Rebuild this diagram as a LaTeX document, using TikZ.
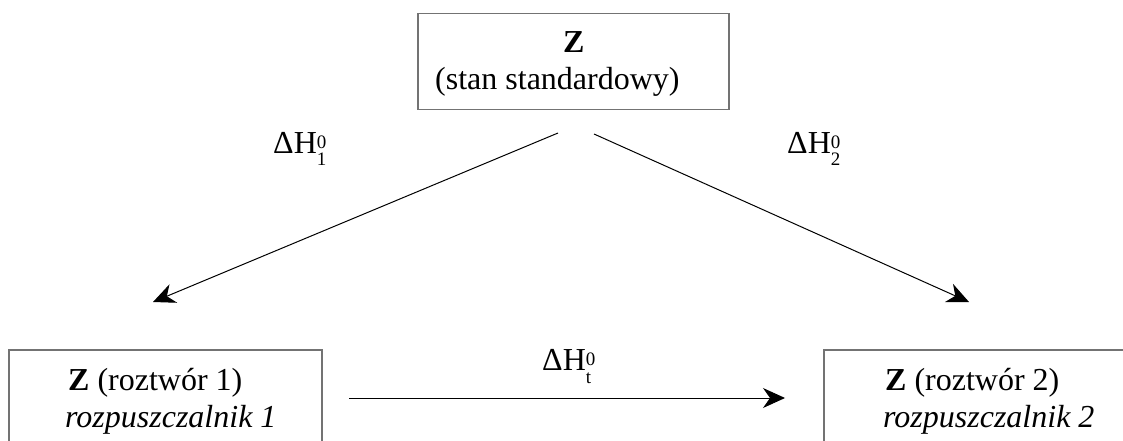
\documentclass[tikz,border=0pt]{standalone}
\usepackage{fontspec}
\setmainfont{Liberation Serif}
\usetikzlibrary{arrows.meta}
\newcommand{\dH}[1]{ΔH\rlap{\raisebox{5pt}{\fontsize{19}{19}\selectfont 0}}\raisebox{-13pt}{\fontsize{19}{19}\selectfont #1}}
\begin{document}
\begin{tikzpicture}[x=1pt, y=-1pt, font=\fontsize{32}{37}\selectfont,
			box/.style={draw=black!55, line width=1.5pt, inner sep=0pt, anchor=north west},
			lbl/.style={inner sep=0pt, anchor=base west},
			arr/.style={-{Stealth[length=22pt, width=20pt, inset=7pt]}, line width=1pt}]
			\useasboundingbox (0,0) rectangle (1123,441);
			% ramki
			\node[box, minimum width=311pt, minimum height=96pt] (std) at (417,13) {};
			\node[box, minimum width=313pt, minimum height=130pt] (r1) at (8,349) {};
			\node[box, minimum width=400pt, minimum height=130pt] (r2) at (823,349) {};
			% teksty w ramkach
			\node[lbl] (stdz) at (563,53) {\textbf{Z}};
			\node[lbl] (stdt) at (435,90) {(stan standardowy)};
			\node[lbl] (r1z) at (68,390) {\textbf{Z} (roztwór 1)};
			\node[lbl] (r1t) at (65,427) {\textit{rozpuszczalnik 1}};
			\node[lbl] (r2z) at (885,390) {\textbf{Z} (roztwór 2)};
			\node[lbl] (r2t) at (883,427) {\textit{rozpuszczalnik 2}};
			% końce strzałek
			\coordinate (a1) at (558,133);
			\coordinate (b1) at (153,302);
			\coordinate (a2) at (594,134);
			\coordinate (b2) at (969,302);
			\coordinate (at) at (349,398);
			\coordinate (bt) at (785,398);
			\draw[arr] (a1) -- (b1);
			\draw[arr] (a2) -- (b2);
			\draw[arr] (at) -- (bt);
			% entalpie
			\node[lbl] (dh1) at (273,153) {\dH{1}};
			\node[lbl] (dh2) at (787,153) {\dH{2}};
			\node[lbl] (dht) at (542,370) {\dH{t}};
		\end{tikzpicture}
\end{document}
